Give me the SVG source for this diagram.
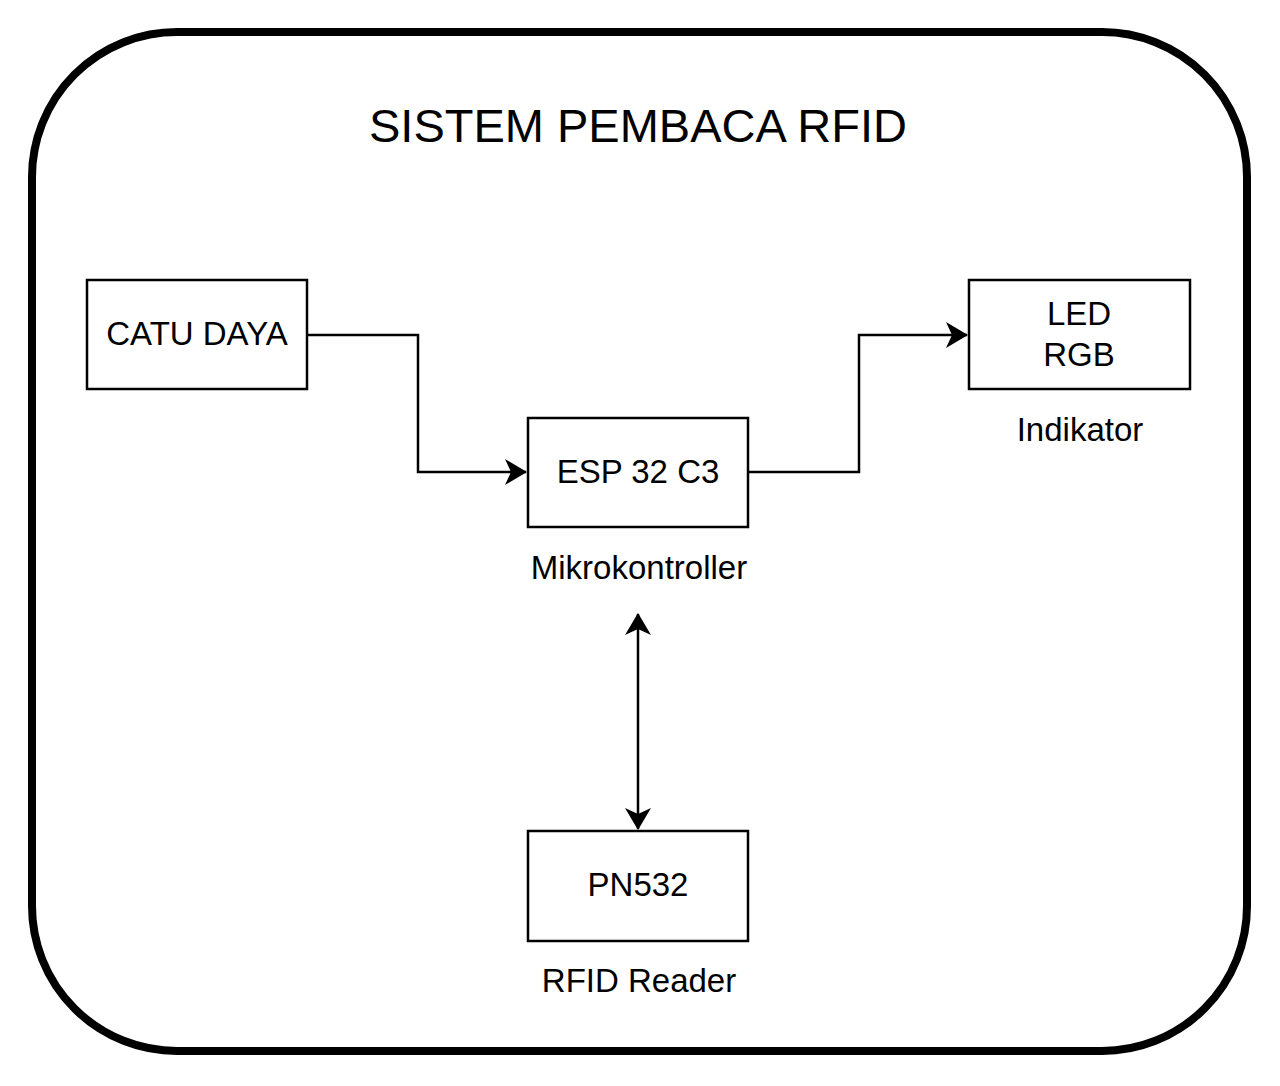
<svg xmlns="http://www.w3.org/2000/svg" width="1280" height="1086" viewBox="0 0 1280 1086">
<style>
.box{fill:#fff;stroke:#000;stroke-width:2.5}
.t{font-family:"Liberation Sans",Arial,sans-serif;fill:#000;text-anchor:middle}
.bt{font-size:33px}
.lbl{font-size:33px}
.c{fill:none;stroke:#000;stroke-width:2.5}
</style>
<defs>
<marker id="arr" viewBox="0 0 22 26" refX="21" refY="13" markerWidth="22" markerHeight="26" markerUnits="userSpaceOnUse" orient="auto-start-reverse">
<path d="M0,0 L22,13 L0,26 L6,13 Z" fill="#000"/>
</marker>
</defs>
<rect width="1280" height="1086" fill="#fff"/>
<g id="frame">
<rect x="32" y="32" width="1215" height="1019" rx="145" ry="145" fill="none" stroke="#000" stroke-width="8"/>
<text class="t" x="638" y="142" font-size="47">SISTEM PEMBACA RFID</text>
</g>
<g id="connectors">
<path class="c" d="M307,335 H418 V472 H526" marker-end="url(#arr)"/>
<path class="c" d="M748,472 H859 V335 H967" marker-end="url(#arr)"/>
<path class="c" d="M638,614 V829" marker-start="url(#arr)" marker-end="url(#arr)"/>
</g>
<g id="catu-daya">
<rect class="box" x="87" y="280" width="220" height="109"/>
<text class="t bt" x="197" y="345">CATU DAYA</text>
</g>
<g id="esp32">
<rect class="box" x="528" y="418" width="220" height="109"/>
<text class="t bt" x="638" y="483">ESP 32 C3</text>
<text class="t lbl" x="639" y="579">Mikrokontroller</text>
</g>
<g id="led">
<rect class="box" x="969" y="280" width="221" height="109"/>
<text class="t bt" x="1079" y="325">LED</text>
<text class="t bt" x="1079" y="366">RGB</text>
<text class="t lbl" x="1080" y="441">Indikator</text>
</g>
<g id="pn532">
<rect class="box" x="528" y="831" width="220" height="110"/>
<text class="t bt" x="638" y="896">PN532</text>
<text class="t lbl" x="639" y="992">RFID Reader</text>
</g>
</svg>
